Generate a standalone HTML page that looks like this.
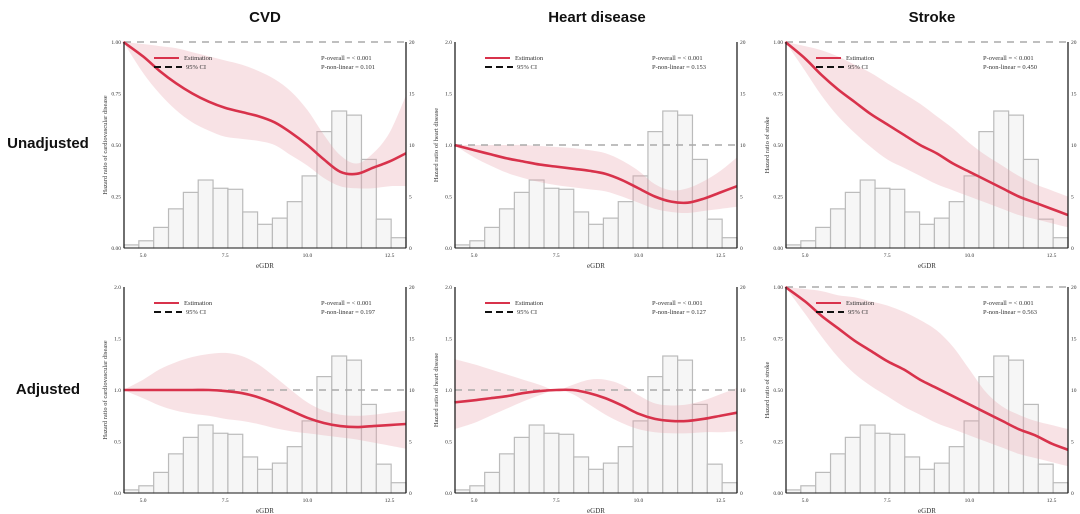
<!DOCTYPE html>
<html><head><meta charset="utf-8"><style>
body{margin:0;background:#fff;width:1080px;height:514px;overflow:hidden}
svg{display:block}
.t{font-family:"Liberation Serif",serif;fill:#333}
.h{font-family:"Liberation Sans",sans-serif;font-weight:bold;fill:#111}
</style></head><body>
<svg id="c" width="1080" height="514"></svg>
<script>
const xs=[4.4,5,5.5,6,6.5,7,7.5,8,8.5,9,9.5,10,10.5,11,11.5,12,12.5,13];
const histCounts=[0.3,0.7,2,3.8,5.4,6.6,5.8,5.7,3.5,2.3,2.9,4.5,7,11.3,13.3,12.9,8.6,2.8,1];
const xTicks=[5.0,7.5,10.0,12.5];
const rightTicks=[0,5,10,15,20];
const colTitles=["CVD","Heart disease","Stroke"];
const rowTitles=["Unadjusted","Adjusted"];
const yTitles=["Hazard ratio of cardiovascular disease","Hazard ratio of heart disease","Hazard ratio of stroke"];
const estU_cvd=[1.0,0.93,0.86,0.80,0.75,0.71,0.68,0.66,0.64,0.61,0.56,0.50,0.43,0.37,0.36,0.39,0.42,0.46];
const hiU_cvd=[1.0,0.99,0.98,0.97,0.95,0.93,0.91,0.89,0.86,0.82,0.76,0.67,0.55,0.45,0.41,0.46,0.56,0.74];
const loU_cvd=[1.0,0.85,0.75,0.67,0.61,0.57,0.54,0.53,0.52,0.50,0.45,0.40,0.34,0.30,0.29,0.29,0.30,0.30];
const estU_hd=[1.0,0.95,0.91,0.87,0.84,0.81,0.79,0.77,0.75,0.72,0.66,0.58,0.50,0.45,0.44,0.48,0.54,0.60];
const hiU_hd=[1.0,1.0,1.0,1.0,1.0,0.99,0.98,0.97,0.95,0.92,0.85,0.75,0.62,0.56,0.58,0.65,0.75,0.88];
const loU_hd=[1.0,0.88,0.80,0.73,0.68,0.64,0.61,0.59,0.57,0.55,0.50,0.44,0.38,0.35,0.34,0.36,0.38,0.40];
const estU_st=[1.0,0.92,0.84,0.77,0.71,0.65,0.60,0.55,0.50,0.46,0.41,0.37,0.33,0.29,0.25,0.22,0.19,0.16];
const hiU_st=[1.0,0.98,0.96,0.93,0.89,0.85,0.80,0.75,0.70,0.64,0.58,0.51,0.45,0.40,0.35,0.31,0.28,0.25];
const loU_st=[1.0,0.86,0.74,0.64,0.56,0.49,0.43,0.39,0.35,0.31,0.28,0.25,0.22,0.19,0.16,0.14,0.12,0.10];
const estA_cvd=[1.0,1.0,1.0,1.0,1.0,1.0,0.99,0.97,0.93,0.87,0.80,0.73,0.68,0.65,0.64,0.65,0.66,0.67];
const hiA_cvd=[1.0,1.1,1.2,1.27,1.32,1.35,1.36,1.33,1.25,1.13,1.0,0.88,0.80,0.76,0.75,0.76,0.78,0.80];
const loA_cvd=[1.0,0.92,0.85,0.80,0.77,0.75,0.72,0.70,0.67,0.63,0.60,0.58,0.56,0.54,0.52,0.49,0.46,0.43];
const estA_hd=[0.88,0.90,0.92,0.94,0.97,0.99,1.0,1.0,0.97,0.92,0.85,0.77,0.72,0.70,0.70,0.72,0.75,0.78];
const hiA_hd=[1.3,1.25,1.2,1.15,1.1,1.05,1.0,1.05,1.1,1.1,1.05,0.95,0.87,0.85,0.86,0.90,0.96,1.02];
const loA_hd=[0.62,0.68,0.75,0.82,0.89,0.95,1.0,0.96,0.86,0.76,0.68,0.62,0.59,0.58,0.58,0.59,0.59,0.60];
const estA_st=[1.0,0.93,0.86,0.80,0.74,0.69,0.64,0.60,0.55,0.51,0.47,0.43,0.39,0.35,0.31,0.28,0.24,0.21];
const hiA_st=[1.0,0.99,0.98,0.96,0.95,0.93,0.91,0.88,0.84,0.79,0.71,0.60,0.49,0.42,0.38,0.35,0.33,0.31];
const loA_st=[1.0,0.87,0.76,0.66,0.58,0.52,0.47,0.42,0.38,0.34,0.31,0.28,0.25,0.22,0.19,0.17,0.15,0.13];
const pOverall=["< 0.001","< 0.001","< 0.001","< 0.001","< 0.001","< 0.001"];
const pNonlin=["0.101","0.153","0.450","0.197","0.127","0.563"];
const yMaxes=[1,2,1,2,2,1];

const panels=[
 [estU_cvd,hiU_cvd,loU_cvd],[estU_hd,hiU_hd,loU_hd],[estU_st,hiU_st,loU_st],
 [estA_cvd,hiA_cvd,loA_cvd],[estA_hd,hiA_hd,loA_hd],[estA_st,hiA_st,loA_st]];
const svg=document.getElementById('c');
const NS='http://www.w3.org/2000/svg';
function mk(tag,attrs,parent,text){const e=document.createElementNS(NS,tag);for(const k in attrs)e.setAttribute(k,attrs[k]);if(text!==undefined)e.textContent=text;(parent||svg).appendChild(e);return e;}
function smooth(pts){let d='M'+pts[0][0]+','+pts[0][1];for(let i=0;i<pts.length-1;i++){const p0=pts[Math.max(0,i-1)],p1=pts[i],p2=pts[i+1],p3=pts[Math.min(pts.length-1,i+2)];
 d+=' C'+(p1[0]+(p2[0]-p0[0])/6)+','+(p1[1]+(p2[1]-p0[1])/6)+' '+(p2[0]-(p3[0]-p1[0])/6)+','+(p2[1]-(p3[1]-p1[1])/6)+' '+p2[0]+','+p2[1];}return d;}

colTitles.forEach((t,i)=>{const e=mk('text',{x:[265,597,932][i],y:22,'text-anchor':'middle','font-size':15,class:'h'},svg,t);
});
rowTitles.forEach((t,i)=>{const e=mk('text',{x:48,y:[148,394][i],'text-anchor':'middle','font-size':15,class:'h'},svg,t);
});

const X0=4.42,X1=13.0,W=282,H=206;
panels.forEach((pd,k)=>{
 const col=k%3,row=Math.floor(k/3);
 const L=[124,455,786][col],T=[42,287][row],B=T+H,R=L+W;
 const ymax=yMaxes[k];
 const sx=v=>L+(v-X0)/(X1-X0)*W, sy=v=>B-Math.min(v,ymax)/ymax*H, sr=v=>B-v/20*H;
 const g=mk('g',{});
 
 
 // histogram
 const bw=(X1-X0)/histCounts.length;
 histCounts.forEach((c,i)=>{const r=mk('rect',{x:sx(X0+i*bw),y:sr(c),width:sx(X0+(i+1)*bw)-sx(X0+i*bw),height:B-sr(c),fill:'#f6f6f6',stroke:'#bbb','stroke-width':1.2},g);
  });
 // CI band
 const [est,hi,lo]=pd;
 const up=xs.map((x,i)=>[sx(x),sy(hi[i])]), dn=xs.map((x,i)=>[sx(x),sy(lo[i])]).reverse();
 const band=mk('path',{d:smooth(up)+' L'+smooth(dn).slice(1)+' Z',fill:'#e8a0a8','fill-opacity':0.3,stroke:'none'},g);
 
 // ref line
 const ref=mk('line',{x1:L,x2:R,y1:sy(1),y2:sy(1),stroke:'#aaa','stroke-width':1.5,'stroke-dasharray':'7,6'},g);
 
 // estimation
 const line=mk('path',{d:smooth(xs.map((x,i)=>[sx(x),sy(est[i])])),fill:'none',stroke:'#d8324b','stroke-width':2.6},g);
 
 // axes
 mk('line',{x1:L,x2:L,y1:T,y2:B,stroke:'#222','stroke-width':1.3},g);
 mk('line',{x1:R,x2:R,y1:T,y2:B,stroke:'#222','stroke-width':1.3},g);
 mk('line',{x1:L,x2:R,y1:B,y2:B,stroke:'#222','stroke-width':1},g);
 const nT=ymax===1?[0,0.25,0.5,0.75,1]:[0,0.5,1,1.5,2];
 nT.forEach(v=>{const e=mk('text',{x:L-3,y:sy(v)+2,'text-anchor':'end','font-size':5.5,class:'t'},g,ymax===1?v.toFixed(2):v.toFixed(1));
  });
 rightTicks.forEach(v=>{const e=mk('text',{x:R+3,y:sr(v)+2,'font-size':5.5,class:'t'},g,v);
  });
 xTicks.forEach(v=>{const e=mk('text',{x:sx(v),y:B+9,'text-anchor':'middle','font-size':5.5,class:'t'},g,v.toFixed(1));
  });
 const xl=mk('text',{x:L+W/2,y:B+20,'text-anchor':'middle','font-size':7,class:'t'},g,'eGDR');
 
 const yt=mk('text',{x:0,y:0,transform:'translate('+(L-17)+','+(T+H/2)+') rotate(-90)','text-anchor':'middle','font-size':6.5,class:'t'},g,yTitles[col]);
 
 // legend
 const lg=mk('g',{},g);
 mk('line',{x1:L+30,x2:L+55,y1:T+16,y2:T+16,stroke:'#d8324b','stroke-width':2},lg);
 mk('text',{x:L+60,y:T+18,'font-size':6.5,class:'t'},lg,'Estimation');
 mk('line',{x1:L+30,x2:L+58,y1:T+25,y2:T+25,stroke:'#111','stroke-width':2,'stroke-dasharray':'7,4'},lg);
 mk('text',{x:L+62,y:T+27,'font-size':6.5,class:'t'},lg,'95% CI');
 const p1=mk('text',{x:L+197,y:T+18,'font-size':6.5,class:'t'},g,'P-overall = '+pOverall[k]);
 
 const p2=mk('text',{x:L+197,y:T+27,'font-size':6.5,class:'t'},g,'P-non-linear = '+pNonlin[k]);
 
});
</script>
</body></html>
